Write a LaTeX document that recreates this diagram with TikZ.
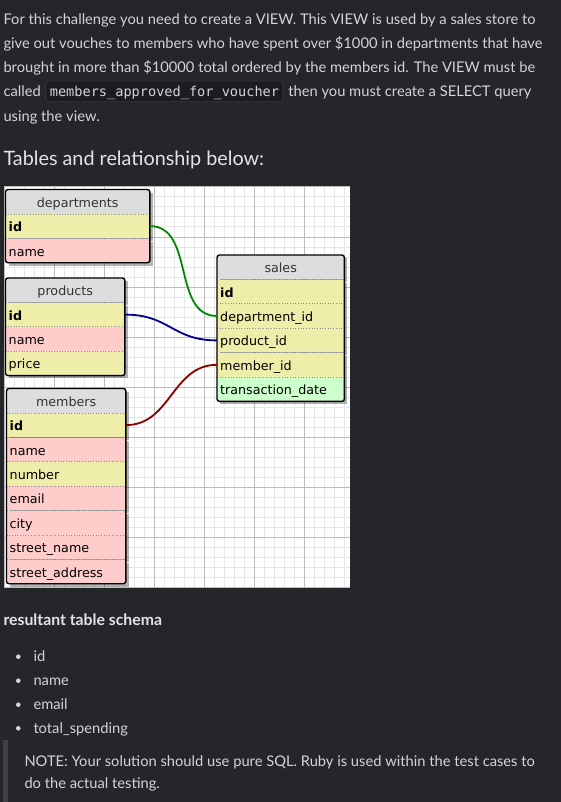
\documentclass[tikz,border=0pt]{standalone}
\usepackage{fontspec}
\setmainfont{Lato}
\setmonofont{DejaVu Sans Mono}
\newfontfamily\erdfont{DejaVu Sans}
\usetikzlibrary{positioning}
\usetikzlibrary{shadows}

\definecolor{pagebg}{RGB}{37,38,42}
\definecolor{bodytxt}{RGB}{212,212,212}
\definecolor{headtxt}{RGB}{228,228,228}
\definecolor{codebg}{RGB}{27,28,31}
\definecolor{codeline}{RGB}{54,55,59}
\definecolor{quotebar}{RGB}{64,65,69}
\definecolor{gridminor}{RGB}{230,230,230}
\definecolor{gridmajor}{RGB}{188,188,188}
\definecolor{headfill}{RGB}{221,221,221}
\definecolor{keyfill}{RGB}{238,238,170}
\definecolor{plainfill}{RGB}{255,204,204}
\definecolor{datefill}{RGB}{204,255,204}
\definecolor{fkgreen}{RGB}{0,136,0}
\definecolor{fkblue}{RGB}{0,0,136}
\definecolor{fkred}{RGB}{136,0,0}

\tikzset{
  bodytext/.style={text=bodytxt, font=\fontsize{14.7}{18}\selectfont, inner sep=0pt, anchor=base west},
  codebox/.style={fill=codebg, draw=codeline, line width=0.8pt, rounded corners=3pt, text=bodytxt,
    font=\ttfamily\fontsize{13.6}{16}\selectfont, inner xsep=4pt, inner ysep=2pt,
    text height=13.7pt, text depth=3pt, anchor=base west},
  rowshadow/.style={drop shadow={shadow xshift=3pt, shadow yshift=-3pt, fill=black, opacity=0.3}},
  field/.style={font=\erdfont\fontsize{12.7}{15}\selectfont, text=black, text width=#1, align=left,
    minimum height=24pt, inner xsep=3pt, inner ysep=0pt, text height=12pt, text depth=1pt, rowshadow},
  tabhead/.style={field=#1, fill=headfill, text=black!80, align=center},
  keyrow/.style={field=#1, fill=keyfill},
  plainrow/.style={field=#1, fill=plainfill},
  daterow/.style={field=#1, fill=datefill},
  rowsep/.style={draw=black!45, dotted, line width=0.7pt},
  tabframe/.style={draw=black, line width=1.4pt, rounded corners=2.5pt},
  fk/.style={line width=1.8pt}
}

\begin{document}
\begin{tikzpicture}[x=1pt,y=-1pt]
  \fill[pagebg] (0,0) rectangle (561,802);
  \useasboundingbox (0,0) rectangle (561,802);

  % text above the diagram
  \node[bodytext] (intro1) at (3.3,24.5) {For this challenge you need to create a VIEW. This VIEW is used by a sales store to};
  \node[bodytext] (intro2) at (3.3,48.5) {give out vouches to members who have spent over \$1000 in departments that have};
  \node[bodytext] (intro3) at (3.3,72.5) {brought in more than \$10000 total ordered by the members id. The VIEW must be};
  \node[bodytext] (called) at (3.3,96.7) {called};
  \node[codebox] (viewname) at ([xshift=4.5pt]called.base east) {members\_approved\_for\_voucher};
  \node[bodytext] (intro4) at ([xshift=4.6pt]viewname.base east) {then you must create a SELECT query};
  \node[bodytext] (intro5) at (3.3,121.5) {using the view.};
  \node[bodytext, text=headtxt, font=\fontsize{19.8}{24}\selectfont] (tabtitle) at (3.3,165.7) {Tables and relationship below:};

  % grid
  \fill[white] (4,187) rectangle (350,587);
  \foreach \gx in {4,14,...,344} \draw[gridminor, line width=1pt] (\gx,187) -- (\gx,587);
  \foreach \gy in {187,197,...,587} \draw[gridminor, line width=1pt] (4,\gy) -- (350,\gy);
  \foreach \gx in {4,54,...,304} \draw[gridmajor, line width=1pt] (\gx,187) -- (\gx,587);
  \foreach \gy in {187,237,...,587} \draw[gridmajor, line width=1pt] (4,\gy) -- (350,\gy);

  % departments
  \node[tabhead=138pt, anchor=north west] (dep) at (5.5,189.5) {departments};
  \node[keyrow=138pt, below=0pt of dep] (depid) {\textbf{id}};
  \node[plainrow=138pt, below=0pt of depid] (depname) {name};

  % products
  \node[tabhead=113pt, anchor=north west] (prod) at (5.5,278) {products};
  \node[keyrow=113pt, below=0pt of prod] (prodid) {\textbf{id}};
  \node[plainrow=113pt, below=0pt of prodid] (prodname) {name};
  \node[keyrow=113pt, below=0pt of prodname] (prodprice) {price};

  % members
  \node[tabhead=113pt, anchor=north west] (mem) at (6.5,388.5) {members};
  \node[keyrow=113pt, below=0pt of mem] (memid) {\textbf{id}};
  \node[plainrow=113pt, below=0pt of memid] (memname) {name};
  \node[keyrow=113pt, below=0pt of memname] (memnumber) {number};
  \node[plainrow=113pt, below=0pt of memnumber] (mememail) {email};
  \node[plainrow=113pt, below=0pt of mememail] (memcity) {city};
  \node[plainrow=113pt, below=0pt of memcity] (memstreet) {street\_name};
  \node[plainrow=113pt, below=0pt of memstreet] (memaddress) {street\_address};

  % sales
  \node[tabhead=121pt, anchor=north west] (sales) at (217,255) {sales};
  \node[keyrow=121pt, below=0pt of sales] (salesid) {\textbf{id}};
  \node[keyrow=121pt, below=0pt of salesid] (salesdep) {department\_id};
  \node[keyrow=121pt, below=0pt of salesdep] (salesprod) {product\_id};
  \node[keyrow=121pt, below=0pt of salesprod] (salesmem) {member\_id};
  \node[daterow=121pt, below=0pt of salesmem] (salesdate) {transaction\_date};

  \foreach \r in {depid,depname,prodid,prodname,prodprice,memid,memname,memnumber,mememail,memcity,memstreet,memaddress,salesid,salesdep,salesprod,salesmem,salesdate}
    \draw[rowsep] (\r.north west) -- (\r.north east);

  \draw[tabframe] (dep.north west) rectangle (depname.south east);
  \draw[tabframe] (prod.north west) rectangle (prodprice.south east);
  \draw[tabframe] (mem.north west) rectangle (memaddress.south east);
  \draw[tabframe] (sales.north west) rectangle (salesdate.south east);

  % relationships
  \draw[fk, fkgreen] (depid.east) .. controls +(45,0) and +(-45,0) .. (salesdep.west);
  \draw[fk, fkblue] (prodid.east) .. controls +(45,0) and +(-45,0) .. (salesprod.west);
  \draw[fk, fkred] (memid.east) .. controls +(45,0) and +(-45,0) .. (salesmem.west);

  % text below the diagram
  \node[bodytext, text=headtxt, font=\bfseries\fontsize{15.8}{19}\selectfont] (schema) at (3.3,625) {resultant table schema};
  \foreach \by/\btxt [count=\bi] in {661.7/id, 685.7/name, 709.7/email, 733.3/total\_spending} {
    \fill[bodytxt] (18.3,\by-5) circle (2.3pt);
    \node[bodytext] (item\bi) at (33.3,\by) {\btxt};
  }
  \fill[quotebar] (3.3,740) rectangle (8.3,802);
  \node[bodytext] (note1) at (24.3,766.7) {NOTE: Your solution should use pure SQL. Ruby is used within the test cases to};
  \node[bodytext] (note2) at (24.3,788.3) {do the actual testing.};
\end{tikzpicture}
\end{document}
